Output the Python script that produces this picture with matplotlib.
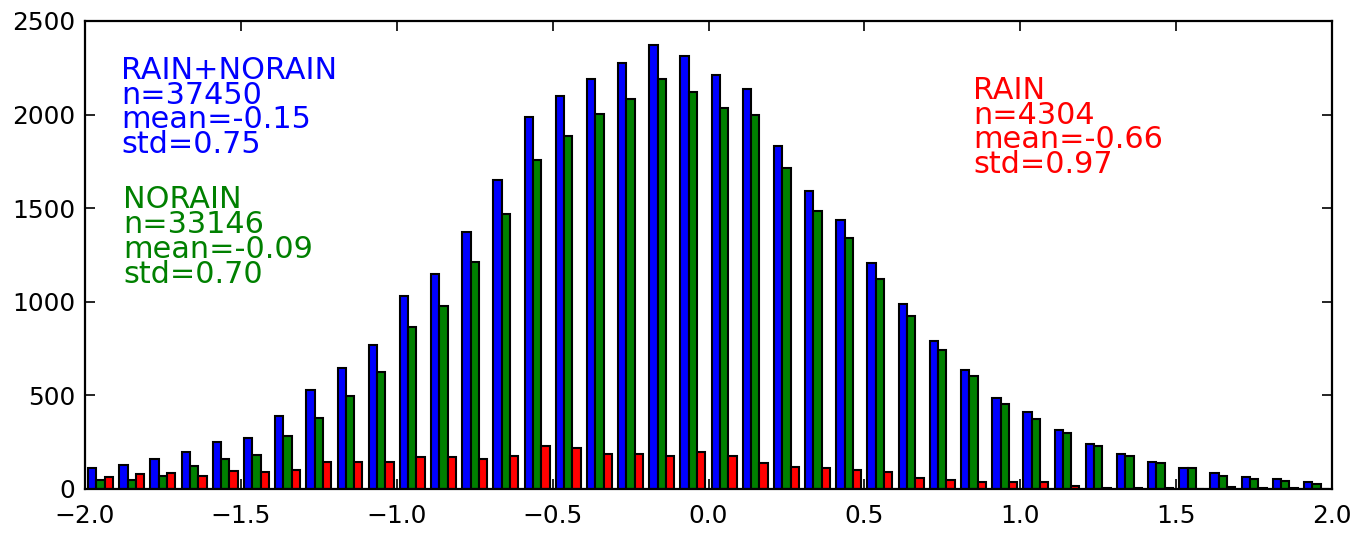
import numpy as np
import matplotlib
matplotlib.use("Agg")
import matplotlib.pyplot as plt

# Histogram bins (left edges), width 0.1 from -2.0 to 2.0
bin_edges = np.round(np.arange(-2.0, 2.0001, 0.1), 2)

all_counts = [112, 130, 160, 196, 253, 270, 388, 527, 644, 769,
              1032, 1149, 1372, 1649, 1985, 2101, 2188, 2274, 2373, 2314,
              2211, 2137, 1832, 1594, 1437, 1206, 987, 788, 637, 487,
              413, 313, 238, 189, 146, 114, 85, 64, 52, 36]
norain_counts = [50, 50, 71, 125, 160, 181, 281, 381, 498, 626,
                 863, 980, 1211, 1469, 1756, 1884, 2001, 2085, 2192, 2121,
                 2033, 1998, 1715, 1484, 1341, 1121, 925, 744, 601, 454,
                 374, 299, 228, 178, 139, 110, 71, 53, 44, 28]
rain_counts = [62, 80, 85, 71, 98, 89, 103, 146, 146, 146,
               169, 169, 160, 178, 228, 217, 189, 189, 178, 196,
               178, 139, 117, 110, 100, 89, 60, 46, 39, 36,
               39, 14, 5, 7, 3, 2, 11, 7, 4, 2]

series = [all_counts, norain_counts, rain_counts]
colors = ["#0000ff", "#008000", "#ff0000"]

labels_all = ["RAIN+NORAIN", "n=37450", "mean=-0.15", "std=0.75"]
labels_norain = ["NORAIN", "n=33146", "mean=-0.09", "std=0.70"]
labels_rain = ["RAIN", "n=4304", "mean=-0.66", "std=0.97"]

W, H = 1356, 537
fig = plt.figure(figsize=(W / 100, H / 100), dpi=100)
ax = fig.add_axes([85 / W, 1 - 489 / H, (1332 - 85) / W, (489 - 21) / H])

binw = 0.1
nser = len(series)
bw = 0.8 * binw / nser
lefts = bin_edges[:-1]
for k, (vals, c) in enumerate(zip(series, colors)):
    ax.bar(lefts + 0.1 * binw + k * bw, vals, width=bw, align="edge",
           color=c, edgecolor="black", linewidth=1.5)

ax.set_xlim(-2.0, 2.0)
ax.set_ylim(0, 2500)
ax.set_xticks([-2.0, -1.5, -1.0, -0.5, 0.0, 0.5, 1.0, 1.5, 2.0])
ax.set_yticks([0, 500, 1000, 1500, 2000, 2500])
ax.xaxis.set_major_formatter(matplotlib.ticker.FuncFormatter(
    lambda v, p: ("%.1f" % v).replace("-", "\u2212")))
ax.tick_params(direction="in", length=7, width=1.2, labelsize=17.9,
               top=True, right=True)
ax.tick_params(axis="x", pad=11)
ax.tick_params(axis="y", pad=7)
for s in ax.spines.values():
    s.set_linewidth(1.6)


def block(lines, x_px, last_base_px, ls, color):
    # va='baseline' on multi-line text aligns the last line's baseline
    fig.text(x_px / W, 1 - last_base_px / H, "\n".join(lines), color=color,
             fontsize=21.8, va="baseline", ha="left", linespacing=ls)


block(labels_all, 121, 153, 0.81, colors[0])
block(labels_norain, 123, 283, 0.83, colors[1])
block(labels_rain, 973, 173, 0.81, colors[2])

fig.savefig("out.png", dpi=100)
